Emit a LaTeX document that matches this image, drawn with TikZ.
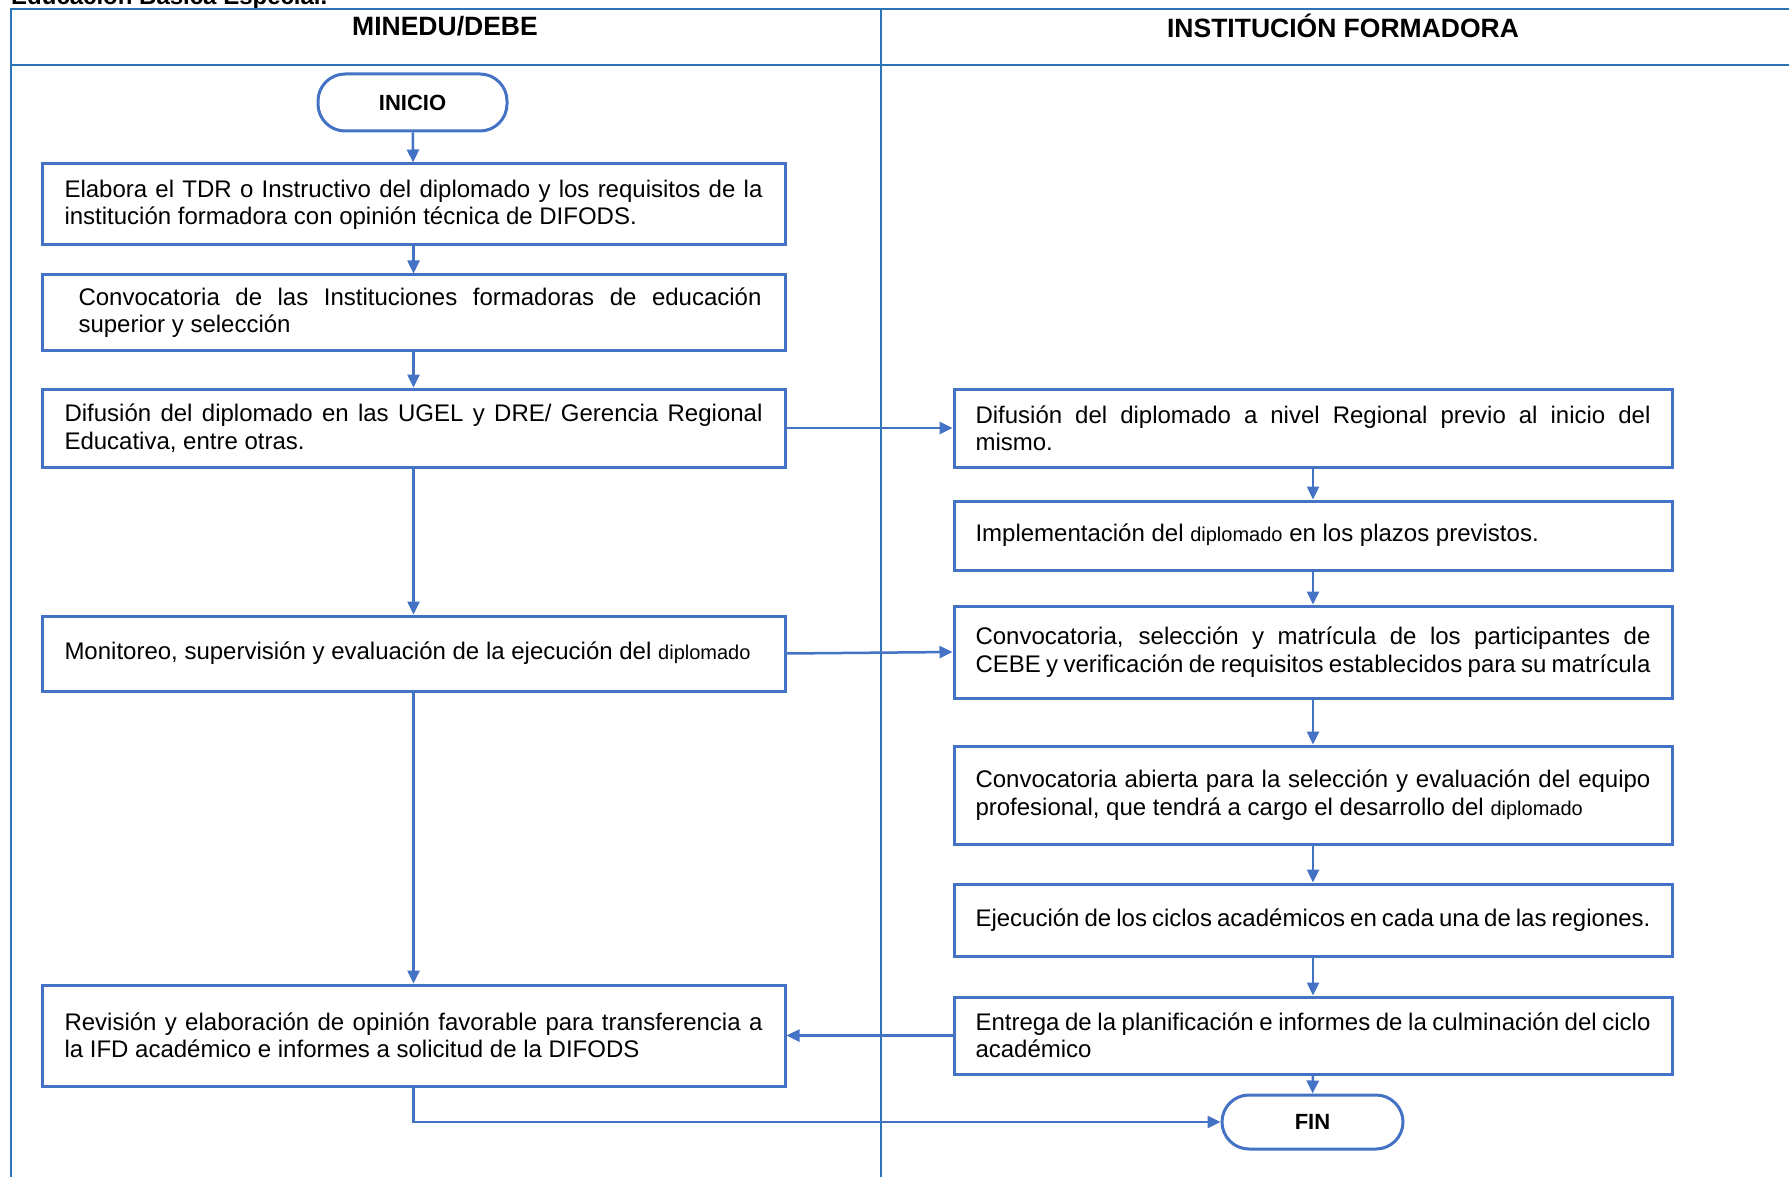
\documentclass[tikz,border=0pt]{standalone}
\usepackage{fontspec}
\setmainfont{Liberation Sans}
\usetikzlibrary{arrows.meta}
\definecolor{boxblue}{HTML}{4472C4}
\definecolor{tblue}{HTML}{2E75B6}
\newcommand\smalldip{{\fontsize{20}{24}\selectfont diplomado}}
\newcommand\tightsp{\spaceskip=0.278em plus 0.8em minus 0.14em\relax\hyphenpenalty=10000\relax\tolerance=10000\relax}
\begin{document}
\begin{tikzpicture}[x=1pt,y=-1pt,
  proc/.style={draw=boxblue, line width=3pt, rectangle, inner sep=0pt,
    font=\fontsize{24}{27.4}\selectfont, align=justify, execute at begin node=\tightsp},
  lbox/.style={proc, minimum width=743pt, text width=698pt},
  rbox/.style={proc, minimum width=718pt, text width=675pt},
  term/.style={draw=boxblue, line width=3pt, rectangle, rounded corners=27pt,
    font=\bfseries\fontsize{22}{26}\selectfont, inner sep=0pt},
  conn/.style={draw=boxblue, line width=2.5pt, -{Triangle[length=13pt,width=12pt]}},
  tline/.style={draw=tblue, line width=2pt},
  hdr/.style={font=\bfseries\fontsize{26.5}{31}\selectfont, inner sep=0pt}
]
\useasboundingbox (0,0) rectangle (1789,1177);
\fill[white] (0,0) rectangle (1789,1177);

% cut-off caption
\node[anchor=base west, font=\bfseries\fontsize{24}{28}\selectfont, inner sep=0pt] (cap) at (11,5) {Educación Básica Especial.};

% table
\draw[tline] (11,1190) -- (11,9) -- (1800,9);
\draw[tline] (11,65) -- (1800,65);
\draw[tline] (881,9) -- (881,1190);
\node[hdr] (hdrA) at (445,26) {MINEDU/DEBE};
\node[hdr] (hdrB) at (1343,26) {INSTITUCIÓN FORMADORA};

% left column
\node[term, minimum width=189pt, minimum height=57pt] (ini) at (412.5,102.5) {INICIO};
\node[lbox, minimum height=81pt] (b1) at (413.5,204.5) {Elabora el TDR o Instructivo del diplomado y los requisitos de la\linebreak institución formadora con opinión técnica de DIFODS.};
\node[lbox, minimum height=75pt] (b2) at (413.5,312.5) {\hspace*{14pt}\parbox{683pt}{\tightsp Convocatoria de las Instituciones formadoras de educación\linebreak superior y selección}};
\node[lbox, minimum height=78pt] (b3) at (413.5,428) {Difusión del diplomado en las UGEL y DRE/ Gerencia Regional\linebreak Educativa, entre otras.};
\node[lbox, minimum height=75pt] (b4) at (413.5,653.5) {Monitoreo, supervisión y evaluación de la ejecución del \smalldip};
\node[lbox, minimum height=101pt] (b5) at (413.5,1035.5) {Revisión y elaboración de opinión favorable para transferencia a\linebreak la IFD académico e informes a solicitud de la DIFODS};

% right column
\node[rbox, minimum height=78pt] (r1) at (1313,428) {Difusión del diplomado a nivel Regional previo al inicio del\linebreak mismo.};
\node[rbox, minimum height=69pt] (r2) at (1313,535.5) {Implementación del \smalldip{} en los plazos previstos.};
\node[rbox, minimum height=92pt] (r3) at (1313,652) {Convocatoria, selección y matrícula de los participantes de\linebreak CEBE y verificación de requisitos establecidos para su matrícula};
\node[rbox, minimum height=98pt] (r4) at (1313,795) {Convocatoria abierta para la selección y evaluación del equipo\linebreak profesional, que tendrá a cargo el desarrollo del \smalldip};
\node[rbox, minimum height=72pt] (r5) at (1313,920) {Ejecución de los ciclos académicos en cada una de las regiones.};
\node[rbox, minimum height=77pt] (r6) at (1313,1035.5) {Entrega de la planificación e informes de la culminación del ciclo\linebreak académico};
\node[term, minimum width=181pt, minimum height=54pt] (fin) at (1312.5,1122) {FIN};

% connectors
\draw[conn] (ini) -- (b1);
\draw[conn] (b1) -- (b2);
\draw[conn] (b2) -- (b3);
\draw[conn] (b3) -- (b4);
\draw[conn] (b4) -- (b5);
\draw[conn] (b3.east) -- (r1.west);
\draw[conn] (b4.east) -- (r3.west);
\draw[conn] (r1) -- (r2);
\draw[conn] (r2) -- (r3);
\draw[conn] (r3) -- (r4);
\draw[conn] (r4) -- (r5);
\draw[conn] (r5) -- (r6);
\draw[conn] (r6) -- (fin);
\draw[conn] (r6.west) -- (b5.east);
\draw[conn] (b5.south) |- (fin.west);
\end{tikzpicture}
\end{document}
